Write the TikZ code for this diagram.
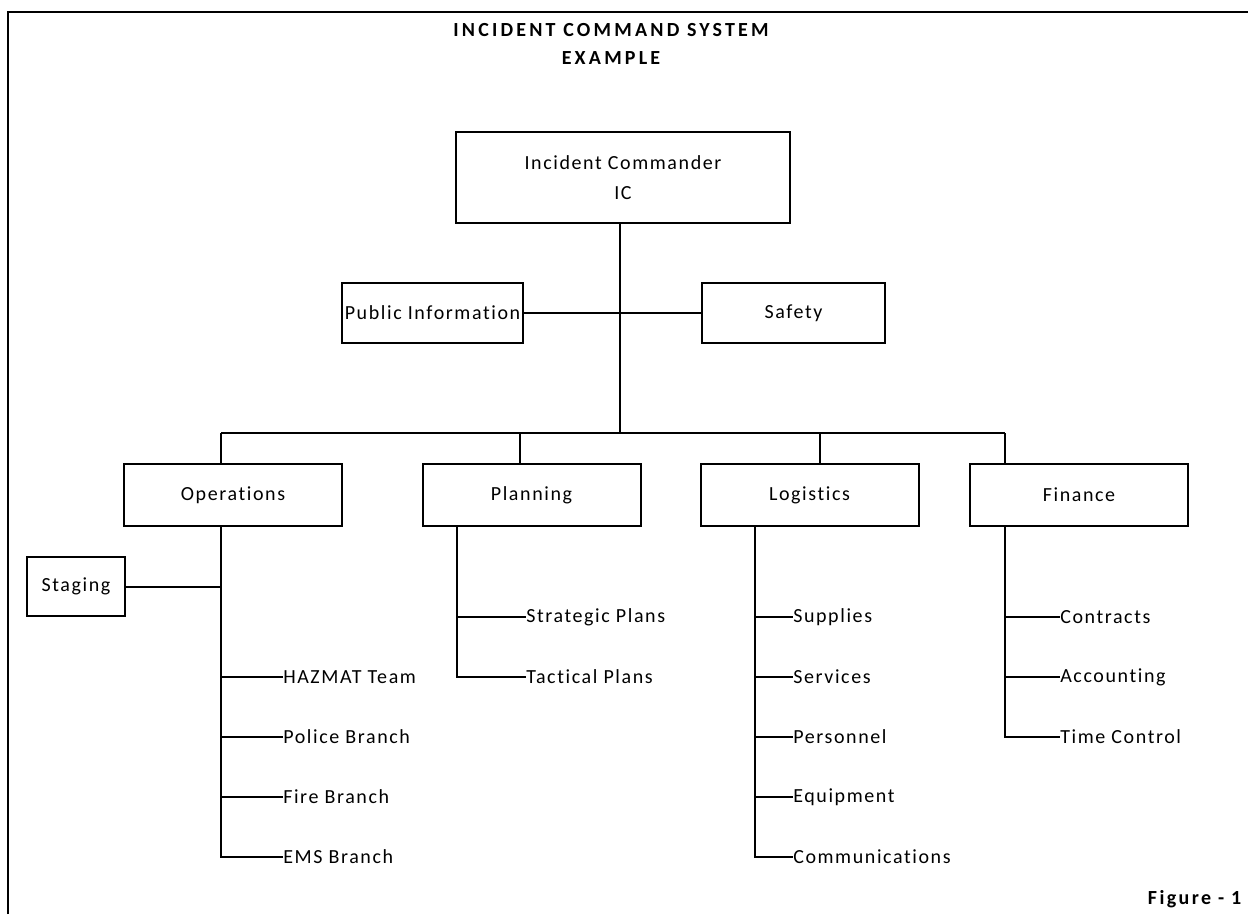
\documentclass[tikz,border=0pt]{standalone}
\usepackage{fontspec}
\setmainfont{Carlito}[LetterSpace=8,Ligatures={NoCommon}]
\begin{document}
\begin{tikzpicture}[x=0.75pt,y=-0.75pt,
  every node/.style={font=\fontsize{15}{18}\selectfont},
  box/.style={draw,line width=1.5pt,inner sep=0pt,align=center},
  leaf/.style={anchor=west,inner sep=0pt},
  ttl/.style={font=\fontsize{15}{18}\selectfont\bfseries\addfontfeatures{LetterSpace=16}},
  figl/.style={font=\fontsize{15}{18}\selectfont\bfseries\addfontfeatures{LetterSpace=12}},
  conn/.style={line width=1.5pt}]
\useasboundingbox (0,0) rectangle (1248,914);
% frame
\draw[line width=2.2pt] (8,914) -- (8,12) -- (1248,12);
% title
\node[ttl] (t1) at (611,30) {INCIDENT COMMAND SYSTEM};
\node[ttl] (t2) at (611,58) {EXAMPLE};
\node[figl,anchor=east] (fig) at (1246,899) {Figure - 1};
% boxes
\node[box,minimum width=250.5pt,minimum height=68.25pt] (ic) at (623,177.5) {Incident Commander\\[5pt]IC};
\node[box,minimum width=135.75pt,minimum height=45pt] (pi) at (432.5,313) {Public Information};
\node[box,minimum width=137.25pt,minimum height=45pt] (saf) at (793.5,313) {Safety};
\node[box,minimum width=163.5pt,minimum height=46.5pt] (ops) at (233,495) {Operations};
\node[box,minimum width=163.5pt,minimum height=46.5pt] (pln) at (531.5,495) {Planning};
\node[box,minimum width=163.5pt,minimum height=46.5pt] (log) at (809.5,495) {Logistics};
\node[box,minimum width=163.5pt,minimum height=46.5pt] (fin) at (1079,495) {Finance};
\node[box,minimum width=73.5pt,minimum height=44.25pt] (stg) at (76,586.5) {Staging};
% coordinates
\coordinate (hub) at (620,433);
\coordinate (bo) at (221,433);
\coordinate (bp) at (520,433);
\coordinate (bl) at (820,433);
\coordinate (bf) at (1005,433);
\coordinate (to) at (221,526);
\coordinate (tp) at (457,526);
\coordinate (tl) at (755,526);
\coordinate (tf) at (1005,526);
% upper connectors
\draw[conn] (ic.south -| hub) -- (hub);
\draw[conn] (pi.east) -- (saf.west);
\draw[conn] (bo) -- (bf);
\draw[conn] (bo) -- (bo |- ops.north);
\draw[conn] (bp) -- (bp |- pln.north);
\draw[conn] (bl) -- (bl |- log.north);
\draw[conn] (bf) -- (bf |- fin.north);
% leaves
\node[leaf] (haz) at (283,677) {HAZMAT Team};
\node[leaf] (pol) at (283,737) {Police Branch};
\node[leaf] (fir) at (283,797) {Fire Branch};
\node[leaf] (ems) at (283,857) {EMS Branch};
\node[leaf] (str) at (526,617) {Strategic Plans};
\node[leaf] (tac) at (526,677) {Tactical Plans};
\node[leaf] (sup) at (793,617) {Supplies};
\node[leaf] (ser) at (793,677) {Services};
\node[leaf] (per) at (793,737) {Personnel};
\node[leaf] (equ) at (793,797) {Equipment};
\node[leaf] (com) at (793,857) {Communications};
\node[leaf] (con) at (1060,617) {Contracts};
\node[leaf] (acc) at (1060,677) {Accounting};
\node[leaf] (tim) at (1060,737) {Time Control};
% trunks
\draw[conn] (to |- ops.south) -- (to |- ems.west) -- (ems.west);
\draw[conn] (stg.east) -- (stg.east -| to);
\draw[conn] (haz.west -| to) -- (haz.west);
\draw[conn] (pol.west -| to) -- (pol.west);
\draw[conn] (fir.west -| to) -- (fir.west);
\draw[conn] (tp |- pln.south) -- (tp |- tac.west) -- (tac.west);
\draw[conn] (str.west -| tp) -- (str.west);
\draw[conn] (tl |- log.south) -- (tl |- com.west) -- (com.west);
\draw[conn] (sup.west -| tl) -- (sup.west);
\draw[conn] (ser.west -| tl) -- (ser.west);
\draw[conn] (per.west -| tl) -- (per.west);
\draw[conn] (equ.west -| tl) -- (equ.west);
\draw[conn] (tf |- fin.south) -- (tf |- tim.west) -- (tim.west);
\draw[conn] (con.west -| tf) -- (con.west);
\draw[conn] (acc.west -| tf) -- (acc.west);
\end{tikzpicture}
\end{document}
